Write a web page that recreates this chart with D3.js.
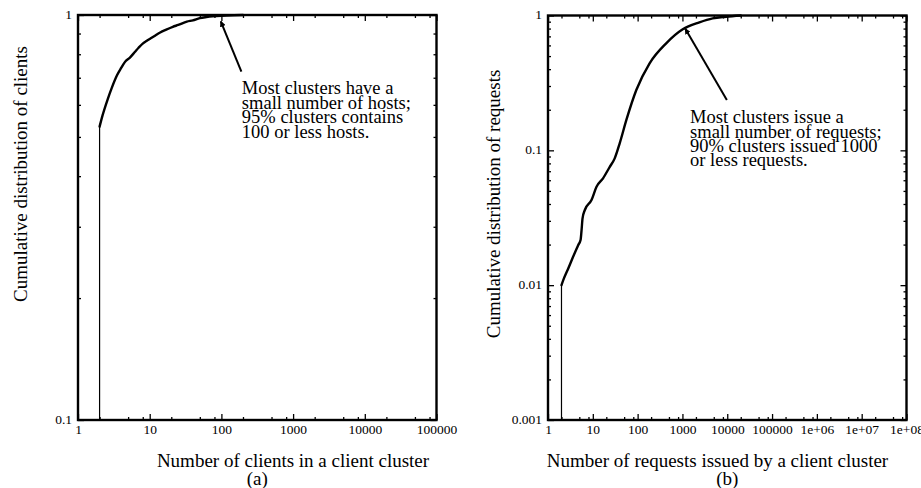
<!DOCTYPE html>
<html>
<head>
<meta charset="utf-8">
<script src="https://cdn.jsdelivr.net/npm/d3@7"></script>
<style>
  html, body { margin: 0; padding: 0; background: #fff; }
  svg { display: block; font-family: "Liberation Serif", "Times New Roman", serif; }
</style>
</head>
<body>
<svg id="fig" width="921" height="488"></svg>
<script>
// (a) cumulative distribution of clients vs. cluster size
const clientsX = [2, 2.2, 2.6, 2.95, 3.5, 4, 4.5, 5.3, 6.2, 7, 8, 9, 10.5, 12, 14, 17, 21, 25, 33, 40, 50, 62, 75, 100, 150, 200];
const clientsY = [0.53, 0.565, 0.62, 0.66, 0.71, 0.74, 0.765, 0.785, 0.81, 0.83, 0.85, 0.862, 0.877, 0.89, 0.905, 0.92, 0.935, 0.945, 0.963, 0.97, 0.982, 0.988, 0.992, 0.996, 0.999, 1.0];

// (b) cumulative distribution of requests vs. requests per cluster
const requestsX = [2, 2.19, 2.83, 3.65, 4.71, 5.33, 5.61, 5.9, 6.64, 9.35, 12.1, 16.9, 23.9, 30.8, 39.8, 56.1, 93.5, 185, 434, 1016, 2387, 4712, 9350, 20000];
const requestsY = [0.01, 0.0109, 0.0133, 0.0163, 0.0198, 0.0216, 0.0256, 0.0313, 0.0361, 0.0428, 0.0537, 0.062, 0.0755, 0.0872, 0.1127, 0.168, 0.28, 0.442, 0.622, 0.79, 0.89, 0.953, 0.98, 1.0];

// axis tick values and their labels
const aXTicks = [1, 10, 100, 1000, 10000, 100000];
const aXLabels = ["1", "10", "100", "1000", "10000", "100000"];
const aYTicks = [0.1, 1];
const aYLabels = ["0.1", "1"];
const bXTicks = [1, 10, 100, 1000, 1e4, 1e5, 1e6, 1e7, 1e8];
const bXLabels = ["1", "10", "100", "1000", "10000", "100000", "1e+06", "1e+07", "1e+08"];
const bYTicks = [0.001, 0.01, 0.1, 1];
const bYLabels = ["0.001", "0.01", "0.1", "1"];
const xMinorSteps = [2, 5, 8];
const yMinorSteps = [2, 3, 4, 5, 6, 7, 8, 9];

// annotation texts
const aNote = ["Most clusters have a", "small number of hosts;", "95% clusters contains", "100 or less hosts."];
const bNote = ["Most clusters issue a", "small number of requests;", "90% clusters issued 1000", "or less requests."];

const svg = d3.select("#fig");
svg.append("rect").attr("width", 921).attr("height", 488).attr("fill", "#fff");

svg.append("defs").append("marker")
  .attr("id", "tip").attr("viewBox", "0 0 10 10").attr("refX", 9).attr("refY", 5)
  .attr("markerWidth", 3).attr("markerHeight", 3).attr("orient", "auto")
  .append("path").attr("d", "M0,0 L10,5 L0,10 Z").attr("fill", "#000");

function minorValues(majors, steps) {
  const out = [];
  for (let i = 0; i < majors.length - 1; i++) steps.forEach(s => out.push(majors[i] * s));
  return out;
}

function styleAxis(sel, fontSize) {
  sel.select(".domain").remove();
  sel.attr("font-family", null).attr("font-size", null);
  sel.selectAll("line").attr("stroke", "#000").attr("stroke-width", 1.3);
  sel.selectAll("text").attr("fill", "#000").style("font-size", fontSize + "px");
}

function panel(cfg) {
  const g = svg.append("g");
  const x = d3.scaleLog().domain(cfg.xDomain).range(cfg.xRange);
  const y = d3.scaleLog().domain(cfg.yDomain).range(cfg.yRange);
  const [xl, xr] = cfg.xRange;
  const [yb, yt] = cfg.yRange;
  const xMin = minorValues(cfg.xTicks, xMinorSteps);
  const yMin = minorValues(cfg.yTicks, yMinorSteps);
  const fs = 13.5;

  // bottom axis with labels
  g.append("g").attr("transform", `translate(0,${yb})`)
    .call(d3.axisBottom(x).tickValues(cfg.xTicks).tickFormat((d, i) => cfg.xLabels[i])
      .tickSizeInner(-6).tickSizeOuter(0).tickPadding(4))
    .call(s => styleAxis(s, fs));
  g.append("g").attr("transform", `translate(0,${yb})`)
    .call(d3.axisBottom(x).tickValues(xMin).tickFormat("").tickSizeInner(-3).tickSizeOuter(0))
    .call(s => styleAxis(s, fs));
  // top mirror ticks
  g.append("g").attr("transform", `translate(0,${yt})`)
    .call(d3.axisTop(x).tickValues(cfg.xTicks).tickFormat("").tickSizeInner(-6).tickSizeOuter(0))
    .call(s => styleAxis(s, fs));
  g.append("g").attr("transform", `translate(0,${yt})`)
    .call(d3.axisTop(x).tickValues(xMin).tickFormat("").tickSizeInner(-3).tickSizeOuter(0))
    .call(s => styleAxis(s, fs));

  // left axis with labels
  g.append("g").attr("transform", `translate(${xl},0)`)
    .call(d3.axisLeft(y).tickValues(cfg.yTicks).tickFormat((d, i) => cfg.yLabels[i])
      .tickSizeInner(-6).tickSizeOuter(0).tickPadding(6))
    .call(s => styleAxis(s, fs))
    .call(s => s.selectAll("text").attr("dy", "0.25em"));
  g.append("g").attr("transform", `translate(${xl},0)`)
    .call(d3.axisLeft(y).tickValues(yMin).tickFormat("").tickSizeInner(-3).tickSizeOuter(0))
    .call(s => styleAxis(s, fs));
  // right mirror ticks
  g.append("g").attr("transform", `translate(${xr},0)`)
    .call(d3.axisRight(y).tickValues(cfg.yTicks).tickFormat("").tickSizeInner(-6).tickSizeOuter(0))
    .call(s => styleAxis(s, fs));
  g.append("g").attr("transform", `translate(${xr},0)`)
    .call(d3.axisRight(y).tickValues(yMin).tickFormat("").tickSizeInner(-3).tickSizeOuter(0))
    .call(s => styleAxis(s, fs));

  // frame
  g.append("rect").attr("x", xl).attr("y", yt).attr("width", xr - xl).attr("height", yb - yt)
    .attr("fill", "none").attr("stroke", "#000").attr("stroke-width", 2.4);

  // distribution curve, with its drop line to the bottom axis
  const pts = cfg.xs.map((v, i) => [v, cfg.ys[i]]);
  g.append("line")
    .attr("x1", x(pts[0][0])).attr("x2", x(pts[0][0]))
    .attr("y1", y(cfg.yDomain[0])).attr("y2", y(pts[0][1]))
    .attr("stroke", "#000").attr("stroke-width", 1.2);
  g.append("path").datum(pts)
    .attr("d", d3.line().x(d => x(d[0])).y(d => y(d[1])).curve(d3.curveMonotoneX))
    .attr("fill", "none").attr("stroke", "#000").attr("stroke-width", 2.4)
    .attr("stroke-linejoin", "round").attr("stroke-linecap", "round");

  // annotation arrow and text
  g.append("line")
    .attr("x1", x(cfg.arrowFrom[0])).attr("y1", y(cfg.arrowFrom[1]))
    .attr("x2", x(cfg.arrowTo[0])).attr("y2", y(cfg.arrowTo[1]))
    .attr("stroke", "#000").attr("stroke-width", 2).attr("marker-end", "url(#tip)");
  const note = g.append("text").attr("x", x(cfg.noteAt[0])).attr("y", y(cfg.noteAt[1]))
    .style("font-size", "18.5px").attr("fill", "#000");
  cfg.note.forEach((line, i) => {
    note.append("tspan").attr("x", x(cfg.noteAt[0])).attr("dy", i === 0 ? 0 : 14.4).text(line);
  });

  // axis titles
  g.append("text").attr("x", cfg.xTitleX).attr("y", 467).attr("text-anchor", "middle")
    .style("font-size", "19px").text(cfg.xTitle);
  g.append("text").attr("x", (xl + xr) / 2).attr("y", 485).attr("text-anchor", "middle")
    .style("font-size", "19px").text(cfg.tag);
  g.append("text").attr("transform", `translate(${cfg.yTitlePos[0]},${cfg.yTitlePos[1]}) rotate(-90)`)
    .attr("text-anchor", "middle").attr("dy", "0.35em")
    .style("font-size", "19px").text(cfg.yTitle);
}

panel({
  xDomain: [1, 1e5], xRange: [78, 436.5],
  yDomain: [0.1, 1], yRange: [420, 15],
  xTicks: aXTicks, xLabels: aXLabels, yTicks: aYTicks, yLabels: aYLabels,
  xs: clientsX, ys: clientsY,
  arrowFrom: [190, 0.725], arrowTo: [98, 0.965],
  noteAt: [193, 0.637], note: aNote,
  xTitle: "Number of clients in a client cluster", xTitleX: 293,
  yTitle: "Cumulative distribution of clients", yTitlePos: [20, 174],
  tag: "(a)"
});

panel({
  xDomain: [1, 1e8], xRange: [548, 906.5],
  yDomain: [0.001, 1], yRange: [420, 15.5],
  xTicks: bXTicks, xLabels: bXLabels, yTicks: bYTicks, yLabels: bYLabels,
  xs: requestsX, ys: requestsY,
  arrowFrom: [9800, 0.236], arrowTo: [1150, 0.80],
  noteAt: [1480, 0.159], note: bNote,
  xTitle: "Number of requests issued by a client cluster", xTitleX: 717.5,
  yTitle: "Cumulative distribution of requests", yTitlePos: [493, 204],
  tag: "(b)"
});
</script>
</body>
</html>
